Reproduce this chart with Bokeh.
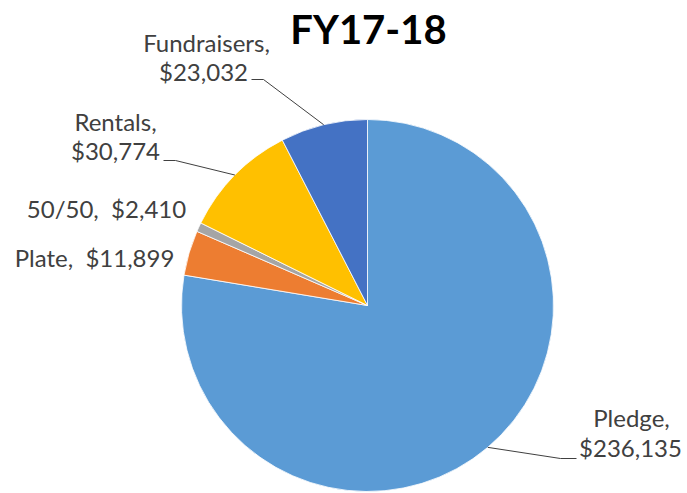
import math
from bokeh.plotting import figure
from bokeh.models import ColumnDataSource, Range1d
from bokeh.core.properties import value
from bokeh.embed import file_html
from bokeh.resources import INLINE

# ---- data ----
title_text = "FY17-18"
categories = ["Pledge", "Plate", "50/50", "Rentals", "Fundraisers"]
amounts = [236135, 11899, 2410, 30774, 23032]
colors = ["#5B9BD5", "#ED7D31", "#A5A5A5", "#FFC000", "#4472C4"]

# ---- geometry (pixel-like data space, y up) ----
W, H = 687, 493
REF_H = 493
def Y(ref_y):
    return REF_H - ref_y

cx, cy, R = 367, Y(305), 186

total = sum(amounts)
starts, ends, mids = [], [], []
c = 0.0
for a in amounts:
    s = math.pi / 2 - 2 * math.pi * c
    c += a / total
    e = math.pi / 2 - 2 * math.pi * c
    starts.append(s); ends.append(e); mids.append((s + e) / 2)

src = ColumnDataSource(dict(cat=categories, amt=amounts, color=colors,
                            start=starts, end=ends))

p = figure(width=W, height=H, x_range=Range1d(0, W), y_range=Range1d(0, H),
           output_backend="svg", toolbar_location=None, min_border=0)
p.axis.visible = False
p.grid.visible = False
p.outline_line_color = None
p.background_fill_color = "white"

p.wedge(x=cx, y=cy, radius=R, start_angle="start", end_angle="end", direction="clock",
        fill_color="color", line_color="white", line_width=0.8, source=src)

def fmt(v):
    return "${:,}".format(v)

FONT = value("Lato")
LBL_COL = "#404040"
FS = "24px"

def edge(i):
    return cx + R * math.cos(mids[i]), cy + R * math.sin(mids[i])

SEP = ",\u00a0 "
# label layout: (category index, lines, [(x, ref_y) per line], leader)
label_specs = [
    (4, [categories[4] + ",", fmt(amounts[4])], [(206, 42), (203, 71)], [(251, 79), (263, 79)]),
    (3, [categories[3] + ",", fmt(amounts[3])], [(115, 121), (115, 150)], [(163, 160), (175, 160)]),
    (2, [categories[2] + SEP + fmt(amounts[2])], [(106, 208)], None),
    (1, [categories[1] + SEP + fmt(amounts[1])], [(94, 257)], None),
    (0, [categories[0] + ",", fmt(amounts[0])], [(631, 417), (630, 447)], [(576, 458), (560, 458)]),
]

tx, ty, tt = [], [], []
for i, lines, pos, leader in label_specs:
    for line, (x, ry) in zip(lines, pos):
        tx.append(x); ty.append(Y(ry)); tt.append(line)
    if leader:
        ex, ey = edge(i)
        xs = [leader[0][0], leader[1][0], ex]
        ys = [Y(leader[0][1]), Y(leader[1][1]), ey]
        p.line(xs, ys, line_color="#404040", line_width=1)

p.text(x=tx, y=ty, text=tt, text_font=FONT, text_font_size=FS, text_color=LBL_COL,
       text_align="center", text_baseline="middle")

p.text(x=[368], y=[Y(28)], text=[title_text], text_font=FONT, text_font_size="40px",
       text_font_style="bold", text_color="#000000", text_align="center", text_baseline="middle")

open("out.html", "w").write(file_html(p, INLINE))
